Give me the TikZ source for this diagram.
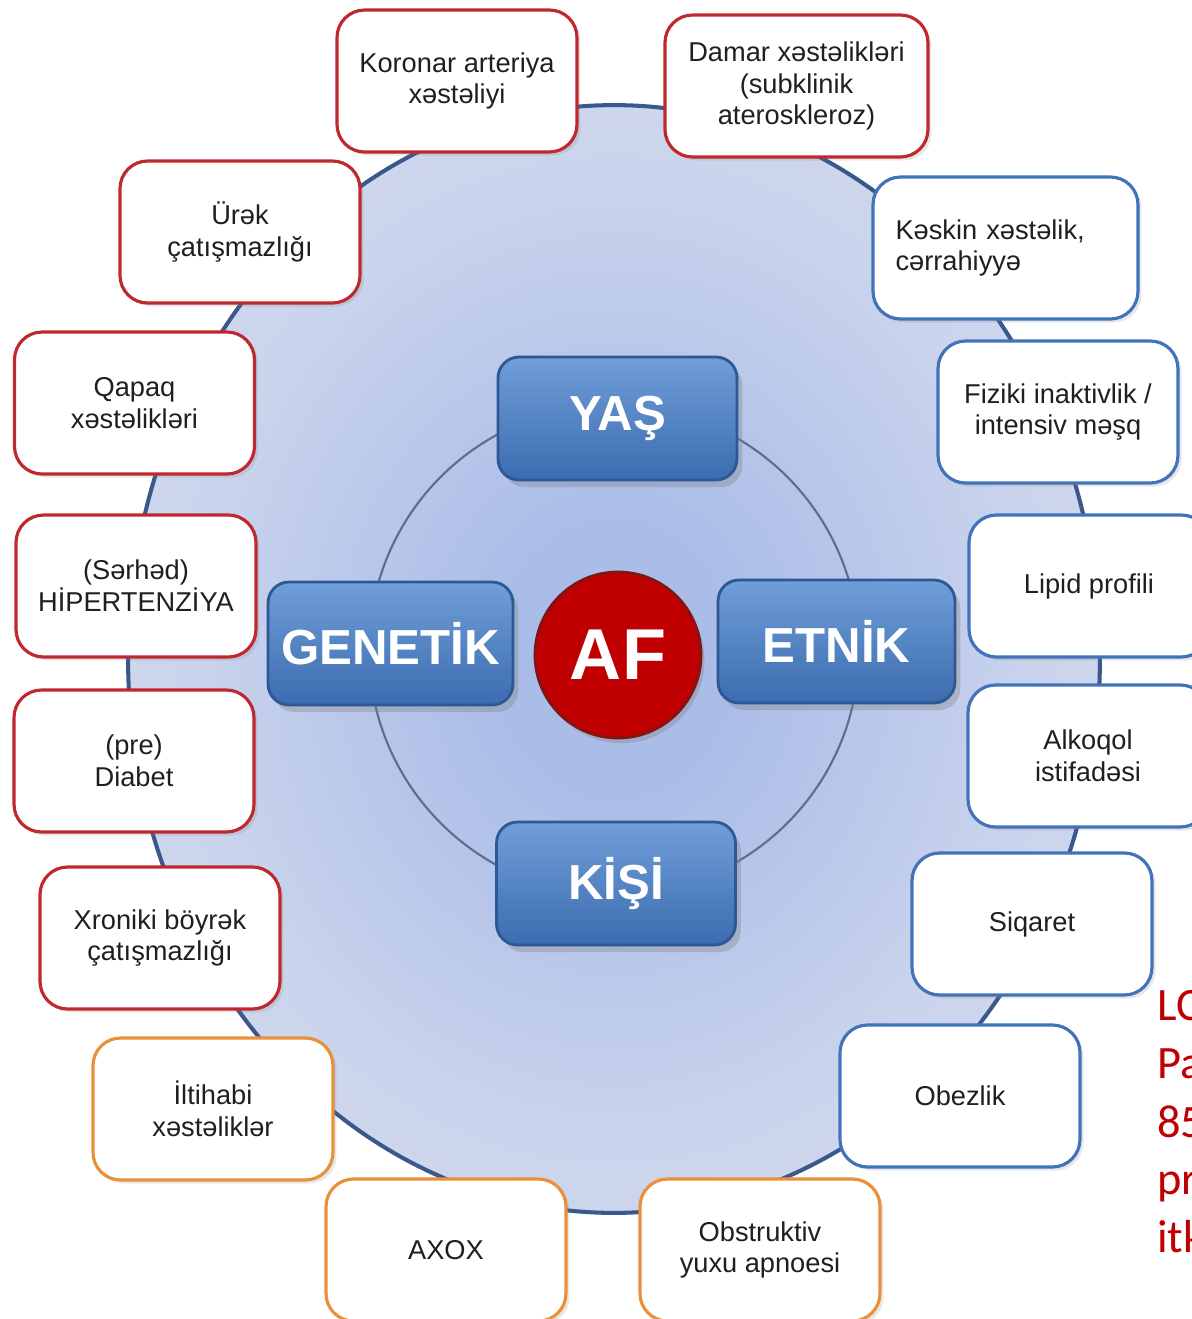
\documentclass[tikz,border=0pt]{standalone}
\usepackage{fontspec}
\setmainfont{Liberation Sans}
\newfontfamily\calibri{Carlito}
\usetikzlibrary{shadows,shadings}
\definecolor{redb}{RGB}{192,40,45}
\definecolor{blueb}{RGB}{66,114,186}
\definecolor{orangeb}{RGB}{232,145,58}
\definecolor{ellline}{RGB}{58,88,140}
\definecolor{circline}{RGB}{95,108,140}
\definecolor{haloin}{RGB}{170,188,232}
\definecolor{halomid}{RGB}{202,212,236}
\definecolor{haloout}{RGB}{224,228,238}
\definecolor{cbtop}{RGB}{112,158,216}
\definecolor{cbbot}{RGB}{60,108,176}
\definecolor{cbdraw}{RGB}{45,88,150}
\definecolor{afred}{RGB}{192,0,0}
\definecolor{afdraw}{RGB}{130,20,20}
\definecolor{txtred}{RGB}{192,0,0}
\pgfdeclareradialshading{halo}{\pgfpoint{0bp}{0bp}}{color(0bp)=(haloin); color(6bp)=(haloin); color(22bp)=(halomid); color(50bp)=(haloout)}
\tikzset{
  x=0.02cm, y=-0.02cm,
  obox/.style={draw=#1, line width=1.8pt, fill=white, rounded corners=0.55cm,
    minimum width=4.8cm, minimum height=2.84cm, align=center, inner sep=2pt,
    font=\fontsize{15.5}{18.1}\selectfont, text=black!88,
    drop shadow={opacity=0.18, shadow xshift=2pt, shadow yshift=-2pt}},
  cbox/.style={draw=cbdraw, line width=1.6pt, rounded corners=0.42cm,
    top color=cbtop, bottom color=cbbot,
    minimum width=4.78cm, minimum height=2.46cm, text=white,
    font=\bfseries\fontsize{28}{30}\selectfont,
    drop shadow={opacity=0.35, shadow xshift=3pt, shadow yshift=-4pt}},
  redtxt/.style={anchor=base west, text=txtred, font=\calibri\fontsize{26.4}{30}\selectfont, inner sep=0pt}
}
\begin{document}
\begin{tikzpicture}
\useasboundingbox (0,0) rectangle (1192,1319);
\clip (0,0) rectangle (1192,1319);
\fill[white] (0,0) rectangle (1192,1319);
% big ellipse
\shade[shading=halo] (614,659) ellipse [x radius=9.72cm, y radius=11.08cm];
\draw[ellline, line width=2.3pt] (614,659) ellipse [x radius=9.72cm, y radius=11.08cm];
% inner circle
\draw[circline, line width=1.2pt] (614,650) circle [radius=4.9cm];
% central boxes
\node[cbox] (yas) at (617.5,418.5) {YAŞ};
\node[cbox, minimum width=4.9cm] (gen) at (390.5,643.5) {GENETİK};
\node[cbox, minimum width=4.74cm] (etn) at (836.5,641.5) {ETNİK};
\node[cbox] (kisi) at (616,883.5) {KİŞİ};
\node[circle, draw=afdraw, line width=1.6pt, fill=afred, minimum size=3.32cm, text=white,
      font=\bfseries\fontsize{41}{44}\selectfont,
      drop shadow={opacity=0.35, shadow xshift=2pt, shadow yshift=-3pt}] (af) at (618,655) {AF};
% outer boxes
\node[obox=redb] (n1) at (457,81) {Koronar arteriya\\xəstəliyi};
\node[obox=redb, minimum width=5.26cm] (n2) at (796.5,86) {Damar xəstəlikləri\\(subklinik\\ateroskleroz)};
\node[obox=redb] (n3) at (240,232) {Ürək\\çatışmazlığı};
\node[obox=blueb, minimum width=5.3cm, text width=4.4cm, align=left] (n4) at (1005.5,248) {Kəskin xəstəlik,\\cərrahiyyə};
\node[obox=redb] (n5) at (134.5,403) {Qapaq\\xəstəlikləri};
\node[obox=blueb] (n6) at (1058,412) {Fiziki inaktivlik /\\intensiv məşq};
\node[obox=redb] (n7) at (136,586) {(Sərhəd)\\HİPERTENZİYA};
\node[obox=blueb] (n8) at (1089,586) {Lipid profili};
\node[obox=redb] (n9) at (134,761) {(pre)\\Diabet};
\node[obox=blueb] (n10) at (1088,756) {Alkoqol\\istifadəsi};
\node[obox=redb] (n11) at (160,938) {Xroniki böyrək\\çatışmazlığı};
\node[obox=blueb] (n12) at (1032,924) {Siqaret};
\node[obox=orangeb] (n13) at (213,1109) {İltihabi\\xəstəliklər};
\node[obox=blueb] (n14) at (960,1096) {Obezlik};
\node[obox=orangeb] (n15) at (446,1250) {AXOX};
\node[obox=orangeb] (n16) at (760,1250) {Obstruktiv\\yuxu apnoesi};
% cut-off red text at right
\node[redtxt] (r1) at (1157,1020) {LC};
\node[redtxt] (r2) at (1157,1078) {Pa};
\node[redtxt] (r3) at (1157,1137) {85};
\node[redtxt] (r4) at (1157,1194) {pr};
\node[redtxt] (r5) at (1157,1252) {itk};
\end{tikzpicture}
\end{document}
